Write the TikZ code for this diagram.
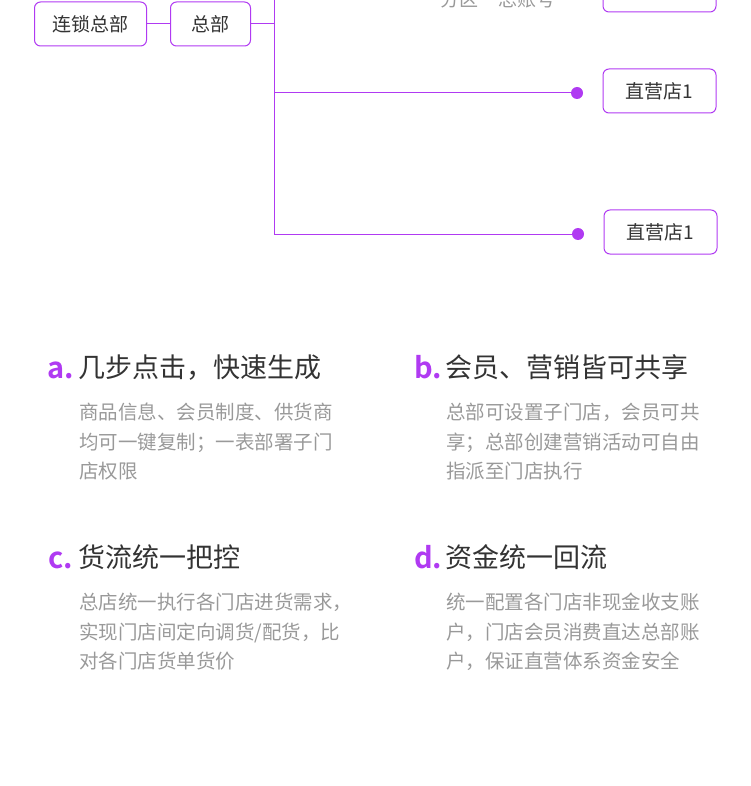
\documentclass[tikz,border=0pt]{standalone}
\usepackage{fontspec}
\setmainfont{Noto Sans CJK SC}
\newfontfamily\cjkbold{Noto Sans CJK SC Bold}
\definecolor{purp}{HTML}{B03AF2}
\definecolor{dark}{HTML}{333333}
\definecolor{gray}{HTML}{999999}
\tikzset{
  box/.style={draw=purp, line width=1pt, rounded corners=6pt, minimum height=44pt, inner sep=0pt, text=dark, font=\fontsize{19}{20}\selectfont},
  conn/.style={draw=purp, line width=1pt},
  dotc/.style={circle, fill=purp, minimum size=12pt, inner sep=0pt},
  letter/.style={anchor=base west, inner sep=0pt, text=purp, font=\cjkbold\fontsize{29}{30}\selectfont},
  title/.style={anchor=base west, inner sep=0pt, text=dark, font=\fontsize{27}{30}\selectfont},
  body/.style={anchor=base west, inner sep=0pt, text=gray, align=left, font=\fontsize{19.5}{29.5}\selectfont},
  toplabel/.style={anchor=base west, inner sep=0pt, text=gray, font=\fontsize{19}{20}\selectfont}
}
\begin{document}
\begin{tikzpicture}[x=1pt, y=-1pt]
\useasboundingbox (0,0) rectangle (750,786);
\clip (0,0) rectangle (750,786);
% top diagram
\node[box, minimum width=112pt] (lszb) at (90.5,24) {连锁总部};
\node[box, minimum width=80pt] (zb) at (210.5,24) {总部};
\node[box, minimum width=113pt] (top) at (659.5,-10) {};
\node[box, minimum width=113pt] (s1) at (659.5,91) {直营店1};
\node[box, minimum width=113pt] (s2) at (660.5,232) {直营店1};
\node[toplabel] (fq) at (440,7) {分区};
\node[toplabel] (zzh) at (498,7) {总账号};
\coordinate (vtop) at (274,-20);
\coordinate (vj) at (274,24);
\coordinate (v1) at (274,93);
\coordinate (v2) at (274,234);
\node[dotc] (d1) at (577,93) {};
\node[dotc] (d2) at (578,234) {};
\draw[conn] (lszb) -- (zb);
\draw[conn] (zb) -- (vj);
\draw[conn] (vtop) -- (v2);
\draw[conn] (v1) -- (d1.center);
\draw[conn] (v2) -- (d2.center);
% section a
\node[letter] (la) at (47,378) {a.};
\node[title] (ta) at (78,377) {几步点击，快速生成};
\node[body] (ba) at (79,478.5) {商品信息、会员制度、供货商\\均可一键复制；一表部署子门\\店权限};
% section b
\node[letter] (lb) at (414,378) {b.};
\node[title] (tb) at (445,377) {会员、营销皆可共享};
\node[body] (bb) at (446,478.5) {总部可设置子门店，会员可共\\享；总部创建营销活动可自由\\指派至门店执行};
% section c
\node[letter] (lc) at (48,568) {c.};
\node[title] (tc) at (78,567) {货流统一把控};
\node[body] (bc) at (79,668.5) {总店统一执行各门店进货需求，\\实现门店间定向调货/配货，比\\对各门店货单货价};
% section d
\node[letter] (ld) at (414,568) {d.};
\node[title] (td) at (445,567) {资金统一回流};
\node[body] (bd) at (446,668.5) {统一配置各门店非现金收支账\\户，门店会员消费直达总部账\\户，保证直营体系资金安全};
\end{tikzpicture}
\end{document}
